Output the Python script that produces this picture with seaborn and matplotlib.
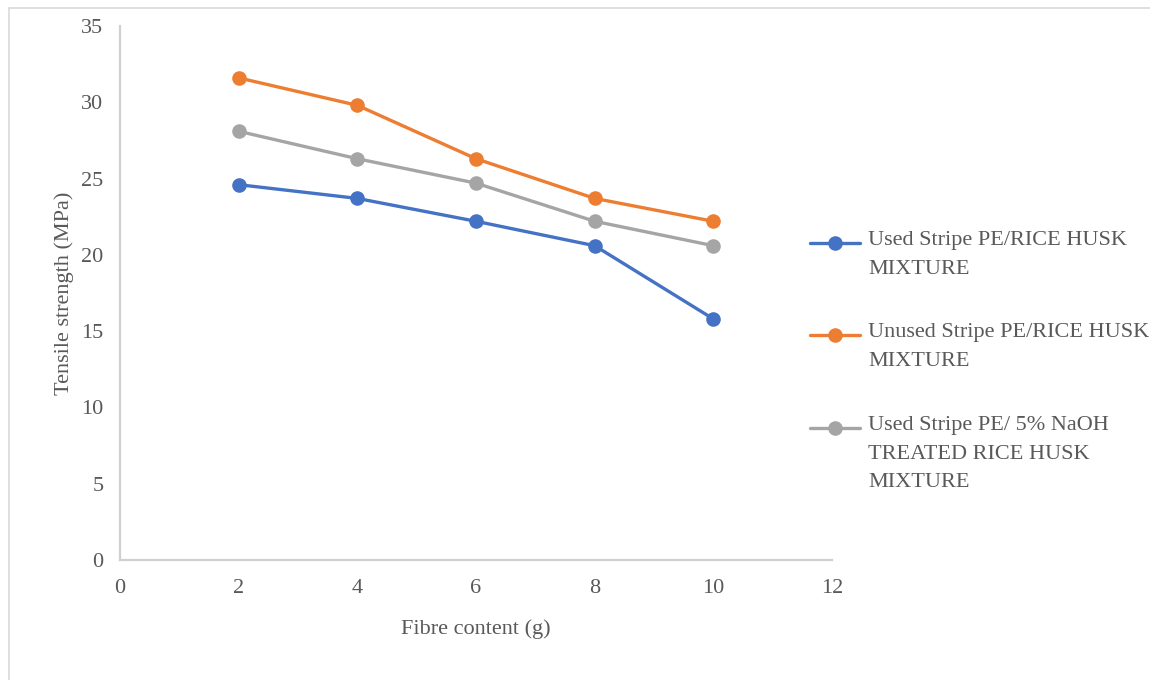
import matplotlib
matplotlib.use("Agg")
import matplotlib.pyplot as plt
import seaborn as sns
import pandas as pd
from matplotlib.lines import Line2D

fibre = [2, 4, 6, 8, 10]
used = [24.6, 23.7, 22.2, 20.6, 15.8]
unused = [31.6, 29.8, 26.3, 23.7, 22.2]
treated = [28.1, 26.3, 24.7, 22.2, 20.6]
series_names = [
    "Used Stripe PE/RICE HUSK\nMIXTURE",
    "Unused Stripe PE/RICE HUSK\nMIXTURE",
    "Used Stripe PE/ 5% NaOH\nTREATED RICE HUSK\nMIXTURE",
]
colors = ["#4472C4", "#ED7D31", "#A5A5A5"]
x_ticks = [0, 2, 4, 6, 8, 10, 12]
y_ticks = [0, 5, 10, 15, 20, 25, 30, 35]

rows = []
for name, vals in zip(series_names, [used, unused, treated]):
    for f, v in zip(fibre, vals):
        rows.append({"Fibre content (g)": f, "Tensile strength (MPa)": v, "series": name})
df = pd.DataFrame(rows)

sns.set_theme(style="white")
plt.rcParams['font.family'] = ['Liberation Serif', 'DejaVu Serif']

fig = plt.figure(figsize=(11.5, 6.8), dpi=100)
ax = fig.add_axes([120/1150, 1-560/680, (832-120)/1150, (560-26)/680])

sns.lineplot(data=df, x="Fibre content (g)", y="Tensile strength (MPa)", hue="series",
             palette=colors, marker="o", markersize=10.5, markeredgewidth=0,
             linewidth=2.4, ax=ax, legend=False)

FS = 16
ax.set_xlim(0, 12)
ax.set_ylim(0, 35)
ax.set_xticks(x_ticks)
ax.set_yticks(y_ticks)
ax.tick_params(axis="both", length=0, labelsize=FS, labelcolor="#595959")
ax.tick_params(axis="y", pad=12)
ax.tick_params(axis="x", pad=14)
for s in ["top", "right"]:
    ax.spines[s].set_visible(False)
for s in ["left", "bottom"]:
    ax.spines[s].set_color("#D0D0D0")
    ax.spines[s].set_linewidth(1.6)
ax.set_xlabel("Fibre content (g)", fontsize=FS, color="#595959", labelpad=15)
ax.set_ylabel("Tensile strength (MPa)", fontsize=FS, color="#595959", labelpad=5)

# manual legend
leg_y = [243, 335, 428]
for name, c, yy in zip(series_names, colors, leg_y):
    yf = 1 - yy/680
    fig.add_artist(Line2D([810/1150, 860/1150], [yf, yf], color=c, linewidth=2.4,
                          transform=fig.transFigure))
    fig.add_artist(Line2D([835/1150], [yf], color=c, marker="o", markersize=10.5,
                          markeredgewidth=0, transform=fig.transFigure))
    fig.text(868/1150, yf + 12/680, name, fontsize=FS, color="#595959",
             va="top", ha="left", linespacing=1.68)

# figure border
fig.add_artist(Line2D([9/1150, 9/1150], [0, 1-8/680], color="#D9D9D9", linewidth=1.2,
                      transform=fig.transFigure))
fig.add_artist(Line2D([9/1150, 1], [1-8/680, 1-8/680], color="#D9D9D9", linewidth=1.2,
                      transform=fig.transFigure))

fig.savefig("out.png", dpi=100)
